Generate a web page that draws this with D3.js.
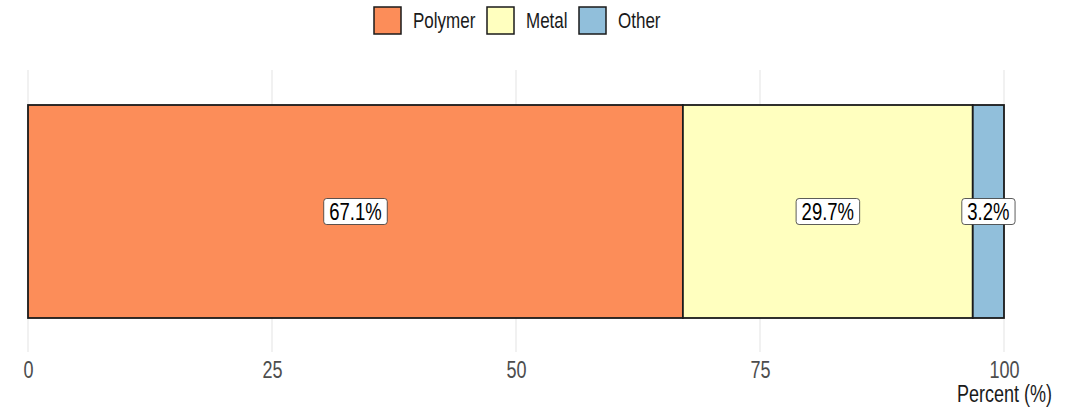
<!DOCTYPE html>
<html><head><meta charset="utf-8">
<script src="https://cdn.jsdelivr.net/npm/d3@7"></script>
<style>body{margin:0;background:#fff}svg{display:block}text{font-family:"Liberation Sans",Arial,sans-serif}</style>
</head><body><svg id="c" width="1076" height="410"></svg>
<script>
const categories = ["Polymer", "Metal", "Other"];
const values = [67.1, 29.7, 3.2];
const colors = ["#FC8D59", "#FFFFBF", "#91BFDB"];
const tickValues = [0, 25, 50, 75, 100];
const axisTitle = "Percent (%)";

const SY = 1.28; // vertical stretch of text seen in the reference
const svg = d3.select("#c");
const x = d3.scaleLinear().domain([0, 100]).range([28, 1004]);
const y = d3.scaleBand().domain(["all"]).range([105, 318]);

// gridlines
svg.append("g").selectAll("line").data(tickValues).join("line")
  .attr("x1", d => x(d)).attr("x2", d => x(d)).attr("y1", 70).attr("y2", 352)
  .attr("stroke", "#e3e3e3").attr("stroke-width", 1);

// stacked data
let acc = 0;
const segs = values.map((v, i) => { const s = {cat: categories[i], v, x0: acc, x1: acc + v, c: colors[i]}; acc += v; return s; });

svg.append("g").selectAll("rect").data(segs).join("rect")
  .attr("x", d => x(d.x0)).attr("width", d => x(d.x1) - x(d.x0))
  .attr("y", y("all")).attr("height", y.bandwidth())
  .attr("fill", d => d.c).attr("stroke", "#1a1a1a").attr("stroke-width", 1.8);

// labels
const lg = svg.append("g").selectAll("g").data(segs).join("g")
  .attr("transform", d => `translate(${x((d.x0 + d.x1) / 2)},${y("all") + y.bandwidth() / 2})`);
lg.append("text").attr("text-anchor", "middle").attr("transform", `translate(0,${0.36 * 18.5 * SY}) scale(1,${SY})`)
  .attr("font-size", 18.5).attr("fill", "#000").text(d => d.v.toFixed(1) + "%");
lg.each(function() {
  const g = d3.select(this); const t = g.select("text"); const b = t.node().getBBox();
  g.insert("rect", "text").attr("x", b.x - 5.5).attr("y", -13).attr("width", b.width + 11).attr("height", 26)
    .attr("rx", 3).attr("fill", "#fff").attr("stroke", "#333").attr("stroke-width", 0.8);
});

// axis
const ax = svg.append("g").attr("transform", "translate(0,352)")
  .call(d3.axisBottom(x).tickValues(tickValues).tickSize(0).tickPadding(0));
ax.select(".domain").remove();
ax.selectAll("text").attr("font-size", 18).attr("fill", "#4d4d4d").attr("dy", null).attr("y", null)
  .attr("transform", `translate(0,26) scale(1,${SY})`)
  .attr("font-family", "'Liberation Sans',Arial,sans-serif");
svg.append("text").attr("transform", `translate(1052,402) scale(1,${SY})`).attr("text-anchor", "end")
  .attr("font-size", 18).attr("fill", "#1a1a1a").text(axisTitle);

// legend
const legX = [374, 487, 579];
const leg = svg.append("g").selectAll("g").data(categories).join("g")
  .attr("transform", (d, i) => `translate(${legX[i]},7)`);
leg.append("rect").attr("width", 27).attr("height", 27).attr("fill", (d, i) => colors[i])
  .attr("stroke", "#1a1a1a").attr("stroke-width", 1.5);
leg.append("text").attr("transform", `translate(39,${13.5 + 0.36 * 17 * SY}) scale(1,${SY})`).attr("font-size", 17)
  .attr("fill", "#1a1a1a").text(d => d);
</script></body></html>
